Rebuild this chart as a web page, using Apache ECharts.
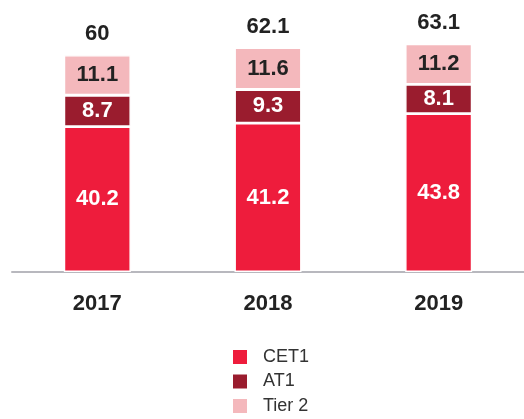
<!DOCTYPE html>
<html><head><meta charset="utf-8">
<script src="https://cdn.jsdelivr.net/npm/echarts@6/dist/echarts.min.js"></script>
<style>html,body{margin:0;padding:0;background:#fff}#c{width:524px;height:419px}</style>
</head><body><div id="c"></div>
<script>
const categories = ['2017', '2018', '2019'];
const cet1 = [40.2, 41.2, 43.8];
const at1 = [8.7, 9.3, 8.1];
const tier2 = [11.1, 11.6, 11.2];
const totals = [60, 62.1, 63.1];
const seriesNames = ['CET1', 'AT1', 'Tier 2'];

const FONT = '"Liberation Sans Narrow", "Liberation Sans", Arial, sans-serif';
const colors = ['#ee1c3c', '#9a1c2e', '#f4b8bc'];
const labelColors = ['#ffffff', '#ffffff', '#222222'];
const data = [cet1, at1, tier2];

const chart = echarts.init(document.getElementById('c'), null, {renderer: 'canvas'});
const series = data.map((d, i) => ({
  name: seriesNames[i],
  type: 'bar',
  stack: 'total',
  barWidth: 67,
  data: d,
  itemStyle: {color: colors[i], borderColor: '#ffffff', borderWidth: 1.4},
  label: {
    show: true, position: 'inside', color: labelColors[i],
    fontFamily: FONT, fontSize: 22, fontWeight: 'bold'
  },
  z: 2
}));
series.push({
  name: 'total',
  type: 'bar',
  stack: 'total',
  data: totals.map(() => 0),
  itemStyle: {color: 'transparent'},
  label: {
    show: true, position: 'top', distance: 10, color: '#222222',
    fontFamily: FONT, fontSize: 22, fontWeight: 'bold',
    formatter: p => String(totals[p.dataIndex])
  },
  legendHoverLink: false
});

chart.setOption({
  animation: false,
  color: colors,
  grid: {left: 12, right: 0, top: 19, bottom: 147},
  legend: {
    data: seriesNames,
    orient: 'vertical',
    left: 231, top: 348, padding: 0,
    itemWidth: 16, itemHeight: 16, itemGap: 6.5,
    icon: 'rect',
    textStyle: {fontFamily: '"Liberation Sans", Arial, sans-serif', fontSize: 18, color: '#333333', padding: [0, 0, 0, 10]}
  },
  xAxis: {
    type: 'category', data: categories,
    axisLine: {lineStyle: {color: '#b8b8be', width: 2}},
    axisTick: {show: false},
    axisLabel: {fontFamily: FONT, fontSize: 22, fontWeight: 'bold', color: '#222222', margin: 21}
  },
  yAxis: {
    type: 'value', min: 0, max: 70,
    show: false, splitLine: {show: false}
  },
  series: series
});
</script></body></html>
